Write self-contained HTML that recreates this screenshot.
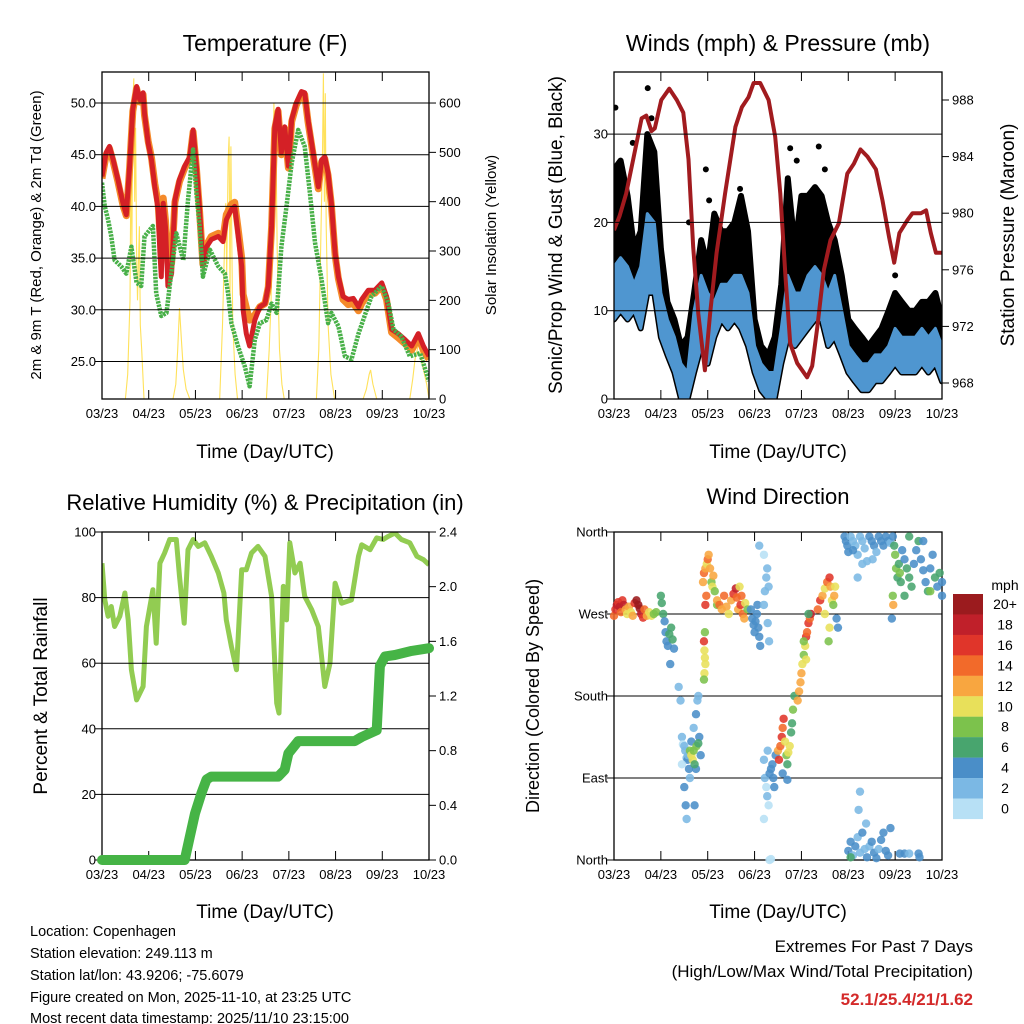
<!DOCTYPE html>
<html><head><meta charset="utf-8"><style>
html,body{margin:0;padding:0;background:#fff;}
svg{display:block;font-family:"Liberation Sans",Arial,sans-serif;}
</style></head><body>
<svg id="root" width="1024" height="1024" viewBox="0 0 1024 1024" xmlns="http://www.w3.org/2000/svg">
<rect x="0" y="0" width="1024" height="1024" fill="#fff"/>
<defs>
<clipPath id="c1"><rect x="102" y="72" width="327" height="327"/></clipPath>
<clipPath id="c2"><rect x="614" y="72" width="328" height="327"/></clipPath>
<clipPath id="c3"><rect x="102" y="532" width="327" height="328"/></clipPath>
</defs>
<text x="265" y="51" font-size="23" text-anchor="middle">Temperature (F)</text>
<text x="778" y="51" font-size="23" text-anchor="middle">Winds (mph) &amp; Pressure (mb)</text>
<text x="265" y="510" font-size="22" text-anchor="middle">Relative Humidity (%) &amp; Precipitation (in)</text>
<text x="778" y="504" font-size="22" text-anchor="middle">Wind Direction</text>
<text x="265" y="458" font-size="19" text-anchor="middle">Time (Day/UTC)</text>
<text x="778" y="458" font-size="19" text-anchor="middle">Time (Day/UTC)</text>
<text x="265" y="918" font-size="19" text-anchor="middle">Time (Day/UTC)</text>
<text x="778" y="918" font-size="19" text-anchor="middle">Time (Day/UTC)</text>
<text transform="translate(41,235) rotate(-90)" font-size="15" text-anchor="middle">2m &amp; 9m T (Red, Orange) &amp; 2m Td (Green)</text>
<text transform="translate(496,235) rotate(-90)" font-size="15" text-anchor="middle">Solar Insolation (Yellow)</text>
<text transform="translate(562,235) rotate(-90)" font-size="19" text-anchor="middle">Sonic/Prop Wind &amp; Gust (Blue, Black)</text>
<text transform="translate(1014,235) rotate(-90)" font-size="19" text-anchor="middle">Station Pressure (Maroon)</text>
<text transform="translate(47,696) rotate(-90)" font-size="19" text-anchor="middle">Percent &amp; Total Rainfall</text>
<text transform="translate(539,696) rotate(-90)" font-size="18" text-anchor="middle">Direction (Colored By Speed)</text>
<g font-size="14.5">
<text x="30" y="936">Location: Copenhagen</text>
<text x="30" y="958">Station elevation: 249.113 m</text>
<text x="30" y="980">Station lat/lon: 43.9206; -75.6079</text>
<text x="30" y="1002">Figure created on Mon, 2025-11-10, at 23:25 UTC</text>
<text x="30" y="1023">Most recent data timestamp: 2025/11/10 23:15:00</text>
</g>
<g text-anchor="end">
<text x="973" y="952" font-size="17">Extremes For Past 7 Days</text>
<text x="973" y="977" font-size="17">(High/Low/Max Wind/Total Precipitation)</text>
<text x="973" y="1005" font-size="17" font-weight="bold" fill="#d42a2a">52.1/25.4/21/1.62</text>
</g>
<text x="1005" y="590" font-size="14" text-anchor="middle">mph</text>
</svg>
<script>
// ---------- DATA ----------
const dayLabels = ["03/23","04/23","05/23","06/23","07/23","08/23","09/23","10/23"];
const tempTicks = [25,30,35,40,45,50];
const solarTicks = [0,100,200,300,400,500,600];
const windTicks = [0,10,20,30];
const presTicks = [968,972,976,980,984,988];
const rhTicks = [0,20,40,60,80,100];
const precipTicks = [0.0,0.4,0.8,1.2,1.6,2.0,2.4];
const dirTicks = [0,90,180,270,360];
const dirLabels = ["North","East","South","West","North"];

const redTime = [0,.09,.16,.24,.34,.45,.52,.59,.66,.74,.81,.88,.91,.99,1.06,1.13,1.2,1.24,1.27,1.31,1.36,1.41,1.49,1.56,1.66,1.77,1.88,1.95,2.02,2.09,2.16,2.24,2.34,2.49,2.59,2.66,2.77,2.84,2.91,2.99,3.02,3.09,3.16,3.27,3.38,3.49,3.56,3.63,3.7,3.77,3.84,3.91,3.99,4.06,4.16,4.27,4.34,4.41,4.52,4.63,4.7,4.77,4.84,4.91,4.99,5.06,5.16,5.27,5.38,5.49,5.56,5.7,5.84,5.99,6.09,6.2,6.34,6.49,6.63,6.77,6.88,7.0];
const redTemp = [42.9,45.2,45.8,44.5,42.6,40.3,39.2,43.9,49.4,51.6,50.3,51,49,46.1,44.5,41.9,39.7,35.5,33.2,40.3,38,32.3,33.5,40.6,42.6,43.9,44.8,47.4,43.9,39.7,34.2,36.1,36.8,37.1,36.6,38.7,39.7,40,37.4,34.2,30,27.7,26.5,29,30.3,30.6,32.3,38.1,47.7,49.4,45.2,47.7,43.9,48.4,50,51.1,51,48.4,45.2,41.9,44.5,44.8,43.2,40.3,35.5,33.2,31.3,31,31.1,30.3,31,31.9,31.9,32.6,31.3,28.1,27.7,27.1,26.5,27.7,26.5,25.5];
const orangeTemp = [42.7,45,45.6,44.3,42.4,40.1,39.1,43.7,49.2,51.4,50.1,50.8,48.8,46.3,44.7,42.2,40.3,37.5,36,40.8,38.6,34.5,34.5,40.4,42.4,43.7,44.6,47.2,43.7,39.5,34.4,36.3,37.1,37.4,36.9,39.2,40.2,40.4,38,35,31.5,30.2,29,29.5,30.3,30.6,32.2,38,47.5,49.2,45,47.5,43.7,48.2,49.8,50.9,50.8,48.2,45,41.7,44.3,44.6,43,40.1,35.3,33,31,30.5,30.6,29.9,30.6,31.6,31.6,32.3,31,27.8,27.3,26.7,26.1,27.3,26.1,25.2];
const dewTime = [0,.06,.13,.2,.27,.41,.52,.63,.74,.84,.91,1.09,1.16,1.27,1.38,1.45,1.59,1.74,1.84,1.95,2.02,2.09,2.16,2.31,2.49,2.63,2.7,2.77,2.91,3.06,3.16,3.27,3.38,3.52,3.63,3.74,3.84,3.95,4.06,4.2,4.34,4.45,4.56,4.7,4.84,4.91,5.06,5.2,5.34,5.49,5.69,5.77,5.99,6.13,6.24,6.41,6.59,6.81,7];
const dewTemp = [42.3,40,38.7,37.1,34.8,34.2,33.5,36.1,32.6,32.3,37.1,38.1,31.6,29.4,29.7,32.3,37.4,34.8,40.6,45.5,41.3,38.1,33.2,35.8,34.2,33.5,31.6,28.7,26.5,24.5,22.6,27.1,28.7,29,30.6,29.7,36.1,40,44.2,47.4,45.8,41.3,36.5,32.9,28.7,29.7,28.4,25.5,25.2,27.7,30.3,31.3,32.3,30.6,28.1,27.4,25.5,25.8,23.1];
const solarTime = [0,0.5,0.55,0.6,0.62,0.64,0.66,0.68,0.7,0.72,0.74,0.76,0.8,0.82,0.85,0.9,1.52,1.58,1.62,1.66,1.7,1.74,1.8,1.88,2.52,2.58,2.62,2.65,2.67,2.7,2.72,2.74,2.76,2.78,2.8,2.85,2.9,3.52,3.58,3.62,3.66,3.68,3.7,3.72,3.75,3.8,3.85,3.9,4.59,4.64,4.68,4.72,4.74,4.76,4.78,4.8,4.84,4.9,4.98,5.59,5.66,5.72,5.75,5.8,5.88,6.59,6.65,6.7,6.75,6.78,6.82,6.88,6.95,7.0];
const solarVal = [0,0,50,200,500,300,600,650,400,550,300,200,350,150,100,0,0,30,100,184,120,60,20,0,0,150,300,397,250,480,532,200,512,300,150,50,0,0,100,200,450,600,420,550,300,100,30,0,0,100,300,500,660,400,620,350,150,50,0,0,20,50,59,30,0,0,40,80,100,126,90,60,30,0];

const windTime = [0,0.14,0.29,0.43,0.57,0.71,0.86,1,1.14,1.29,1.43,1.57,1.71,1.86,2,2.14,2.29,2.43,2.57,2.71,2.86,3,3.14,3.29,3.43,3.57,3.71,3.86,4,4.14,4.29,4.43,4.57,4.71,4.86,5,5.14,5.29,5.43,5.57,5.71,5.86,6,6.14,6.29,6.43,6.57,6.71,6.86,7];
const gustHi = [26,27,23,17,19,30,28,17,11,9,6,7,12,18,15,21,19,19,20,23,19,9,6,5,7,13,25,17,23,23,24,23,20,18,14,9,8,7,6,7,8,10,12,11,10,10,11,11,12,9];
const sustHi = [15,16,15,13,15,21,20,12,9,7,4,3,10,14,12,11,13,13,14,14,12,6,4,3,3,8,14,12,12,14,15,14,12,14,10,6,5,4,4,5,5,6,8,7,7,7,8,7,8,6];
const sustLo = [9,10,9,10,8,12,12,7,5,3,0,0,3,6,4,7,9,8,9,8,6,3,1,0,0,4,7,6,7,8,9,9,6,7,5,3,2,1,1,2,2,3,4,3,3,3,4,3,4,2];
const gustDotTime = [0.72,0.03,1.96,3.76,4.37,0.8,2.69,2.03,0.4,1.6,3.9,4.5,6.0];
const gustDotVal = [35.2,33,26,28.4,28.6,31.8,23.8,22.5,29,20,27,26,14];
const presTime = [0,.12,.26,.41,.59,.69,.8,.87,1.01,1.18,1.34,1.48,1.59,1.69,1.8,1.94,2.05,2.19,2.37,2.59,2.73,2.87,2.98,3.12,3.3,3.44,3.55,3.66,3.76,3.91,4.12,4.23,4.34,4.48,4.62,4.8,4.98,5.12,5.26,5.41,5.59,5.73,5.87,5.98,6.09,6.26,6.37,6.55,6.66,6.76,6.87,7];
const presVal = [978.8,979.8,981.4,983.8,986.7,986.9,985.8,986,988,988.8,988,987.1,983.8,977.6,972.9,968.9,972.9,977.2,981.4,986.1,987.5,988.2,989.2,989.2,988,985.4,981.4,975.5,970.8,969.4,968.4,969.2,972,976,978.1,979.3,982.8,983.5,984.5,984,983.1,980.9,978.3,976.5,978.6,979.5,980,980,980.2,978.6,977.2,977.2];

const rhTime = [0,.06,.13,.2,.27,.38,.49,.56,.63,.74,.88,.95,1.09,1.16,1.24,1.34,1.45,1.59,1.66,1.76,1.84,1.95,2.06,2.2,2.34,2.49,2.61,2.66,2.77,2.88,2.99,3.09,3.2,3.34,3.49,3.63,3.74,3.79,3.88,3.95,4.02,4.13,4.24,4.34,4.49,4.63,4.77,4.88,4.99,5.13,5.34,5.49,5.56,5.74,5.88,6.02,6.13,6.27,6.41,6.59,6.74,6.88,7];
const rhVal = [90.5,79.3,74.3,77.3,71.2,74.3,81.4,73.2,58,48.8,52.9,71.2,82.4,66.1,90.5,93.6,97.7,97.7,86.5,72.2,94.6,97.7,95.6,96.7,92.6,87.5,81.4,73.2,65.1,58,88.5,88.5,93.6,95.6,92.6,80.4,47.8,44.8,83.4,73.2,96.7,87.5,90.5,80.4,76.3,71.2,52.9,60,84.4,78.3,79.3,92.6,96.1,94.6,98.2,97.7,98.7,99.7,97.7,96.7,92.6,91.6,90];
const precipTime = [0,1.77,1.88,1.99,2.13,2.24,2.34,3.77,3.91,3.99,4.2,5.41,5.56,5.88,5.95,6.06,6.27,6.63,7];
const precipVal = [0,0,0.17,0.34,0.49,0.59,0.61,0.61,0.66,0.78,0.87,0.87,0.9,0.95,1.42,1.49,1.5,1.53,1.55];

const dirTime = [0,.03,.06,.09,.12,.15,.18,.21,.25,.28,.32,.36,.4,.44,.48,.52,.55,.58,.62,.65,.7,.75,.8,.85,.9,
1,1.02,1.05,1.08,1.1,1.12,1.15,1.18,1.22,1.25,1.28,1.2,
1.38,1.42,1.45,1.47,1.5,1.52,1.55,1.57,1.6,1.62,1.5,1.53,1.55,1.45,1.58,1.65,1.7,1.75,1.78,1.8,1.82,1.85,1.75,1.72,
1.62,1.65,1.68,1.7,1.72,1.76,1.8,
1.92,1.93,1.94,1.95,1.93,1.92,1.94,
1.9,1.92,1.95,1.98,2,2.02,2.05,2.08,2.1,2.12,2.15,1.95,1.97,2.2,
2.2,2.25,2.3,2.35,2.4,2.45,2.5,2.55,2.6,2.62,2.65,2.7,2.75,2.78,2.8,2.68,2.72,2.85,
2.92,2.95,2.98,3,3.02,3.05,3.08,3.1,3.12,3.06,
3.2,3.25,3.27,3.3,3.22,3.28,3.31,3.1,3.2,
3.2,3.22,3.25,3.27,3.3,3.32,3.35,3.38,3.4,3.42,3.45,3.28,3.2,3.32,3.35,
3.5,3.52,3.55,3.58,3.6,3.62,3.65,3.68,3.7,3.72,3.75,3.78,3.8,3.82,3.85,3.6,3.7,
3.92,3.95,3.98,4,4.02,4.05,4.08,4.1,4.12,4.15,4.18,4.2,4.05,4.1,4.15,
4.35,4.4,4.45,4.5,4.55,4.6,4.62,4.65,4.68,4.7,4.72,4.75,4.78,4.5,4.6,4.58,
4.92,4.95,4.98,5,5.05,5.1,5.15,5.2,5.25,5.3,5.35,5.4,5.45,5.5,5.55,5.6,5.65,5.7,5.75,5.8,5.85,5.9,5.95,5.1,5.3,5.52,5.2,
5.98,6,6.02,6.05,6.08,6.1,6.12,6.15,6.2,6.25,6.3,6.35,6.4,6.45,6.5,6.55,6.6,6.65,6.7,6.75,6.8,6.85,6.9,6.95,7,7,5.96,5.95,5.93,6.3,6.6,6.2,6.75,
5,5.05,5.1,5.15,5.2,5.25,5.3,5.35,5.38,5.4,5.45,5.5,5.55,5.6,5.65,5.7,5.75,5.8,5.85,5.9,5.22,5.25,5.05,
6.1,6.2,6.3,6.5,6.52];
const dirVal = [268,275,280,283,278,272,285,280,275,270,278,272,268,282,285,280,276,270,266,275,268,272,268,270,272,
290,282,270,262,250,240,235,248,255,242,232,215,
190,175,135,127,125,120,112,110,100,90,80,60,45,105,115,130,145,160,175,180,135,115,100,60,
120,115,110,120,105,125,128,
240,230,222,215,205,198,250,
305,315,320,325,330,335,320,305,300,312,295,280,290,280,
285,280,275,290,278,270,285,292,298,288,275,280,270,265,282,300,290,275,
275,265,258,250,262,270,255,245,235,280,
335,310,320,300,295,260,240,345,280,
110,90,80,70,60,95,100,105,90,80,115,120,45,0,1,
120,110,125,135,145,155,130,115,105,118,125,140,150,165,180,95,88,
175,185,195,205,215,225,235,245,250,260,265,270,240,220,270,
275,285,290,298,305,310,300,285,280,290,300,265,255,270,255,240,
355,350,345,338,355,350,345,335,355,350,342,328,355,350,345,338,355,350,345,355,350,348,355,340,325,330,310,
345,335,320,310,325,315,305,340,330,320,310,300,325,340,350,330,318,305,295,320,335,310,300,315,305,290,280,290,265,355,350,290,295,
10,20,5,15,25,8,30,12,40,3,15,20,8,2,12,22,30,10,5,35,55,75,3,
7,7,7,7,3];
const dirSpeed = [14,16,18,17,18,14,16,18,12,10,13,11,12,16,20,22,20,18,16,14,12,10,11,9,8,
6,6,6,4,4,4,4,6,6,6,4,4,
2,2,2,0,2,2,2,4,4,2,4,4,2,0,2,4,2,4,2,2,4,4,4,4,
8,10,10,8,6,8,6,
16,10,10,10,10,8,8,
12,14,12,10,14,12,12,8,10,12,8,16,14,8,
12,14,12,14,12,10,12,16,18,14,12,16,14,12,10,10,14,8,
4,4,4,4,4,4,4,4,4,4,
0,2,2,2,2,2,2,2,2,
2,2,0,2,0,4,4,4,4,4,4,2,0,0,0,
12,16,14,16,14,16,10,8,6,10,10,6,6,8,6,4,4,
12,12,12,12,10,8,10,16,14,16,14,18,8,10,6,
14,16,12,10,14,16,12,10,8,12,10,4,4,10,10,8,
4,4,4,4,2,2,2,2,2,2,2,2,4,4,4,2,4,4,4,4,4,2,4,4,2,2,2,
6,8,8,6,6,8,6,4,4,6,6,6,4,4,6,4,4,4,6,4,4,6,4,6,4,4,12,8,4,6,4,6,8,
4,4,2,4,2,2,4,2,2,4,2,4,4,4,2,4,4,4,4,4,2,2,6,
4,4,2,4,4];
const cbLabels = ["20+","18","16","14","12","10","8","6","4","2","0"];
const cbColors = ["#9b1b1e","#c0202a","#e0352a","#f26a2a","#f8a640","#e8e05a","#7cc24c","#48a56e","#4a8ec8","#7bb8e4","#b7e0f5"];

// ---------- SCALES ----------
const NS="http://www.w3.org/2000/svg";
const root=document.getElementById('root');
const P1={x0:102,x1:429,y0:72,y1:399}, P2={x0:614,x1:942,y0:72,y1:399}, P3={x0:102,x1:429,y0:532,y1:860}, P4={x0:614,x1:942,y0:532,y1:860};
const xd=(p,d)=>p.x0+d*(p.x1-p.x0)/7;
const yT=v=>103+(50-v)*10.34;
const ySol=v=>399-v*0.4933;
const yW=v=>399-v*8.83;
const yPr=v=>100+(988-v)*14.15;
const yRH=v=>860-v*3.28;
const yIn=v=>860-v*136.67;
const yDir=v=>860-v*328/360;
function el(tag,attrs,parent){const e=document.createElementNS(NS,tag);for(const k in attrs)e.setAttribute(k,attrs[k]);(parent||root).appendChild(e);return e;}
function pts(p,ts,vs,fy){return ts.map((t,i)=>xd(p,t).toFixed(1)+','+fy(vs[i]).toFixed(1)).join(' ');}
function speedColor(s){let i=Math.min(10,Math.floor(s/2));return cbColors[10-i];}

function frame(p,name,gridVals,fy,leftTicks,leftLabels,leftFy,rightTicks,rightLabels,rightFy){
  const g=el('g',{});
  
  
  gridVals.forEach(v=>{const l=el('line',{x1:p.x0,x2:p.x1,y1:fy(v),y2:fy(v),stroke:'#000','stroke-width':1},g);
    
    });
  dayLabels.forEach((lab,i)=>{const x=xd(p,i);
    el('line',{x1:x,x2:x,y1:p.y0,y2:p.y0+9,stroke:'#000'},g);
    el('line',{x1:x,x2:x,y1:p.y1,y2:p.y1-9,stroke:'#000'},g);
    const t=el('text',{x:x,y:p.y1+19,'font-size':13,'text-anchor':'middle'},g);t.textContent=lab;
    
    });
  leftTicks.forEach((v,i)=>{const y=leftFy(v);
    el('line',{x1:p.x0-7,x2:p.x0,y1:y,y2:y,stroke:'#000'},g);
    const t=el('text',{x:p.x0-6,y:y+4.5,'font-size':13,'text-anchor':'end'},g);t.textContent=leftLabels[i];
    
    });
  if(rightTicks)rightTicks.forEach((v,i)=>{const y=rightFy(v);
    el('line',{x1:p.x1,x2:p.x1+7,y1:y,y2:y,stroke:'#000'},g);
    const t=el('text',{x:p.x1+10,y:y+4.5,'font-size':13,'text-anchor':'start'},g);t.textContent=rightLabels[i];
    
    });
  const r=el('rect',{x:p.x0,y:p.y0,width:p.x1-p.x0,height:p.y1-p.y0,fill:'none',stroke:'#000','stroke-width':1.3},g);
  
  
}

// ---------- PANEL 1: temperature ----------
const g1=el('g',{'clip-path':'url(#c1)'});


let l=el('polyline',{points:pts(P1,solarTime,solarVal,ySol),fill:'none',stroke:'#ffe15a','stroke-width':1.1},g1);


l=el('polyline',{points:pts(P1,redTime,orangeTemp,yT),fill:'none',stroke:'#f58a2a','stroke-width':7,'stroke-linejoin':'round'},g1);


l=el('polyline',{points:pts(P1,redTime,redTemp,yT),fill:'none',stroke:'#d42026','stroke-width':5,'stroke-linejoin':'round'},g1);


l=el('polyline',{points:pts(P1,dewTime,dewTemp,yT),fill:'none',stroke:'#48b048','stroke-width':4.5,'stroke-dasharray':'2.5 1','stroke-linejoin':'round'},g1);


frame(P1,'temperature',tempTicks.slice(0),yT,tempTicks,tempTicks.map(v=>v.toFixed(1)),yT,solarTicks,solarTicks.map(String),ySol);

// ---------- PANEL 2: winds ----------
const g2=el('g',{'clip-path':'url(#c2)'});


const gustPoly=windTime.map((t,i)=>xd(P2,t).toFixed(1)+','+yW(gustHi[i]).toFixed(1)).concat(windTime.map((t,i)=>xd(P2,t).toFixed(1)+','+yW(sustLo[i]).toFixed(1)).reverse()).join(' ');
l=el('polygon',{points:gustPoly,fill:'#000',stroke:'#000','stroke-width':6,'stroke-linejoin':'round'},g2);


gustDotTime.forEach((t,i)=>{const c=el('circle',{cx:xd(P2,t),cy:yW(gustDotVal[i]),r:3,fill:'#000'},g2);
  
  });
const sustPoly=windTime.map((t,i)=>xd(P2,t).toFixed(1)+','+yW(sustHi[i]).toFixed(1)).concat(windTime.map((t,i)=>xd(P2,t).toFixed(1)+','+yW(sustLo[i]).toFixed(1)).reverse()).join(' ');
l=el('polygon',{points:sustPoly,fill:'#4f96d0',stroke:'#4f96d0','stroke-width':3,'stroke-linejoin':'round'},g2);


l=el('polyline',{points:pts(P2,presTime,presVal,yPr),fill:'none',stroke:'#a11b1f','stroke-width':4,'stroke-linejoin':'round'},g2);


frame(P2,'winds',[10,20,30],yW,windTicks,windTicks.map(String),yW,presTicks,presTicks.map(String),yPr);

// ---------- PANEL 3: RH & precip ----------
const g3=el('g',{'clip-path':'url(#c3)'});


l=el('polyline',{points:pts(P3,rhTime,rhVal,yRH),fill:'none',stroke:'#92cc52','stroke-width':5,'stroke-linejoin':'round'},g3);


frame(P3,'humidity',[20,40,60,80],yRH,rhTicks,rhTicks.map(String),yRH,precipTicks,precipTicks.map(v=>v.toFixed(1)),yIn);
l=el('polyline',{points:pts(P3,precipTime,precipVal,yIn),fill:'none',stroke:'#46b446','stroke-width':10,'stroke-linejoin':'round','stroke-linecap':'round'});



// ---------- PANEL 4: wind direction ----------
frame(P4,'wind-direction',[90,180,270],yDir,dirTicks,dirLabels,yDir,null);
const g4=el('g',{});


dirTime.forEach((t,i)=>{const c=el('circle',{cx:xd(P4,t),cy:yDir(dirVal[i]),r:4.2,fill:speedColor(dirSpeed[i]),'fill-opacity':0.88},g4);
  
  });

// colorbar
const cb=el('g',{});


cbColors.forEach((c,i)=>{const y=594+i*20.45;
  const r=el('rect',{x:953,y:y,width:30,height:20.6,fill:c},cb);
  
  
  const t=el('text',{x:1005,y:y+15,'font-size':14,'text-anchor':'middle'},cb);t.textContent=cbLabels[i];
  
  });
</script>
</body></html>
